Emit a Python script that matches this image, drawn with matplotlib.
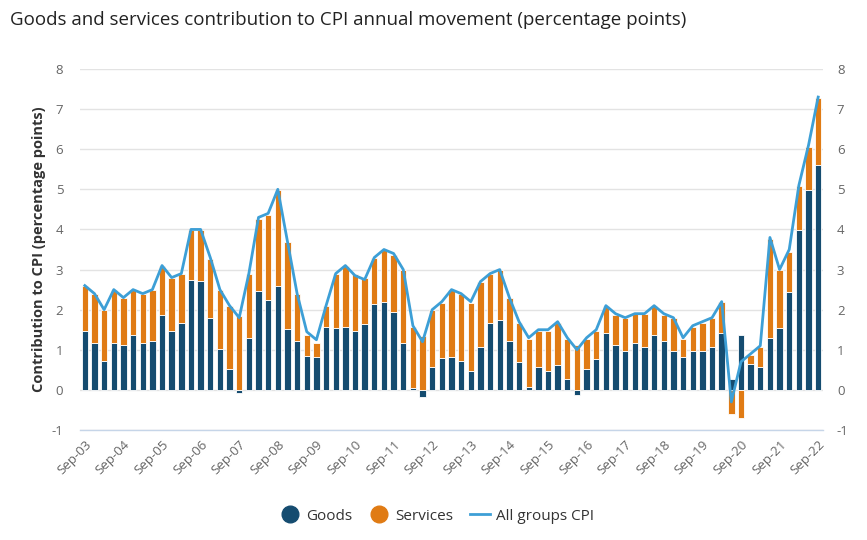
import matplotlib
matplotlib.use("Agg")
import matplotlib.pyplot as plt
from matplotlib.lines import Line2D
import numpy as np

plt.rcParams['font.family'] = ['Open Sans', 'DejaVu Sans']
plt.rcParams['axes.unicode_minus'] = False

years = list(range(3, 23))

goods = [1.48, 1.16, 0.73, 1.18, 1.11, 1.38, 1.18, 1.23, 1.86, 1.48,
         1.68, 2.73, 2.72, 1.79, 1.03, 0.51, -0.08, 1.29, 2.47, 2.25,
         2.58, 1.52, 1.23, 0.84, 0.81, 1.58, 1.54, 1.57, 1.46, 1.64,
         2.14, 2.19, 1.94, 1.17, 0.04, -0.17, 0.57, 0.79, 0.82, 0.73,
         0.48, 1.08, 1.68, 1.73, 1.23, 0.69, 0.08, 0.56, 0.46, 0.62,
         0.28, -0.12, 0.51, 0.78, 1.43, 1.13, 0.98, 1.18, 1.08, 1.38,
         1.21, 0.98, 0.81, 0.98, 0.96, 1.08, 1.43, 0.28, 1.38, 0.65,
         0.58, 1.29, 1.54, 2.45, 3.98, 4.98, 5.60]

services = [1.10, 1.22, 1.25, 1.32, 1.17, 1.10, 1.20, 1.25, 1.22, 1.30,
            1.20, 1.25, 1.26, 1.48, 1.45, 1.57, 1.85, 1.59, 1.80, 2.12,
            2.40, 2.16, 1.15, 0.54, 0.37, 0.50, 1.34, 1.51, 1.42, 1.15,
            1.15, 1.31, 1.43, 1.81, 1.54, 1.35, 1.41, 1.38, 1.66, 1.65,
            1.69, 1.60, 1.20, 1.27, 1.05, 0.98, 1.20, 0.92, 1.02, 1.05,
            1.00, 1.13, 0.77, 0.70, 0.65, 0.74, 0.81, 0.72, 0.82, 0.70,
            0.66, 0.80, 0.47, 0.60, 0.71, 0.70, 0.77, -0.60, -0.70, 0.22,
            0.50, 2.48, 1.44, 1.00, 1.10, 1.07, 1.67]

cpi = [2.6, 2.4, 2.0, 2.5, 2.3, 2.5, 2.4, 2.5, 3.1, 2.8,
       2.9, 4.0, 4.0, 3.3, 2.5, 2.1, 1.8, 2.9, 4.3, 4.4,
       5.0, 3.7, 2.4, 1.45, 1.25, 2.1, 2.9, 3.1, 2.85, 2.75,
       3.3, 3.5, 3.4, 3.0, 1.6, 1.2, 2.0, 2.2, 2.5, 2.4,
       2.2, 2.7, 2.9, 3.0, 2.3, 1.7, 1.3, 1.5, 1.5, 1.7,
       1.3, 1.0, 1.3, 1.5, 2.1, 1.9, 1.8, 1.9, 1.9, 2.1,
       1.9, 1.8, 1.3, 1.6, 1.7, 1.8, 2.2, -0.3, 0.7, 0.9,
       1.1, 3.8, 3.0, 3.5, 5.1, 6.1, 7.3]

tick_labels = [f"Sep-{y:02d}" for y in years]

goods_color = "#154c70"
services_color = "#e07b14"
cpi_color = "#3d9fd6"

fig = plt.figure(figsize=(8.67, 5.40), dpi=100)
ax = fig.add_axes([80 / 867, 110 / 540, 743 / 867, 361 / 540])

x = np.arange(len(goods))
g = np.array(goods)
s = np.array(services)
# stacking like Highcharts: positives and negatives stack separately
g_pos = np.where(g > 0, g, 0)
s_bottom = np.where((s >= 0), g_pos, np.where(g < 0, g, 0))
w = 0.66
ax.bar(x, g, width=w, color=goods_color, edgecolor="white", linewidth=0.6, zorder=2)
ax.bar(x, s, width=w, bottom=s_bottom, color=services_color, edgecolor="white", linewidth=0.6, zorder=2)
ax.plot(x, cpi, color=cpi_color, linewidth=2.0, zorder=3, solid_joinstyle="round")

ax.set_xlim(-0.5, len(goods) - 0.5)
ax.set_ylim(-1, 8)
ax.set_yticks(range(-1, 9))
ax.grid(axis="y", color="#e3e3e3", linewidth=1, zorder=0)
ax.set_axisbelow(True)
for sp in ["top", "left", "right"]:
    ax.spines[sp].set_visible(False)
ax.spines["bottom"].set_color("#c6d5e8")
ax.spines["bottom"].set_linewidth(1)

ax.set_xticks(np.arange(0, len(goods), 4))
ax.set_xticklabels(tick_labels, rotation=45, ha="right", rotation_mode="anchor",
                   fontsize=9.5, color="#666666")
ax.tick_params(axis="x", length=0, pad=6)
ax.tick_params(axis="y", length=0, labelsize=9.5, labelcolor="#666666", pad=12)

ax2 = ax.twinx()
ax2.set_ylim(-1, 8)
ax2.set_yticks(range(-1, 9))
ax2.tick_params(axis="y", length=0, labelsize=9.5, labelcolor="#666666", pad=10)
for sp in ["top", "left", "right", "bottom"]:
    ax2.spines[sp].set_visible(False)

ax.set_ylabel("Contribution to CPI (percentage points)", fontsize=10.5,
              fontweight="bold", color="#333333", labelpad=4)

fig.text(10 / 867, 1 - 20 / 540, "Goods and services contribution to CPI annual movement (percentage points)",
         fontsize=13.5, color="#222222", va="center", ha="left")

handles = [
    Line2D([], [], marker="o", linestyle="none", markersize=12, color=goods_color),
    Line2D([], [], marker="o", linestyle="none", markersize=12, color=services_color),
    Line2D([], [], color=cpi_color, linewidth=2),
]
fig.legend(handles, ["Goods", "Services", "All groups CPI"], loc="center",
           bbox_to_anchor=(437 / 867, 1 - 516 / 540), ncol=3, frameon=False,
           fontsize=11, labelcolor="#333333", handlelength=1.3, handletextpad=0.4,
           columnspacing=1.1)

fig.savefig("out.png", dpi=100)
